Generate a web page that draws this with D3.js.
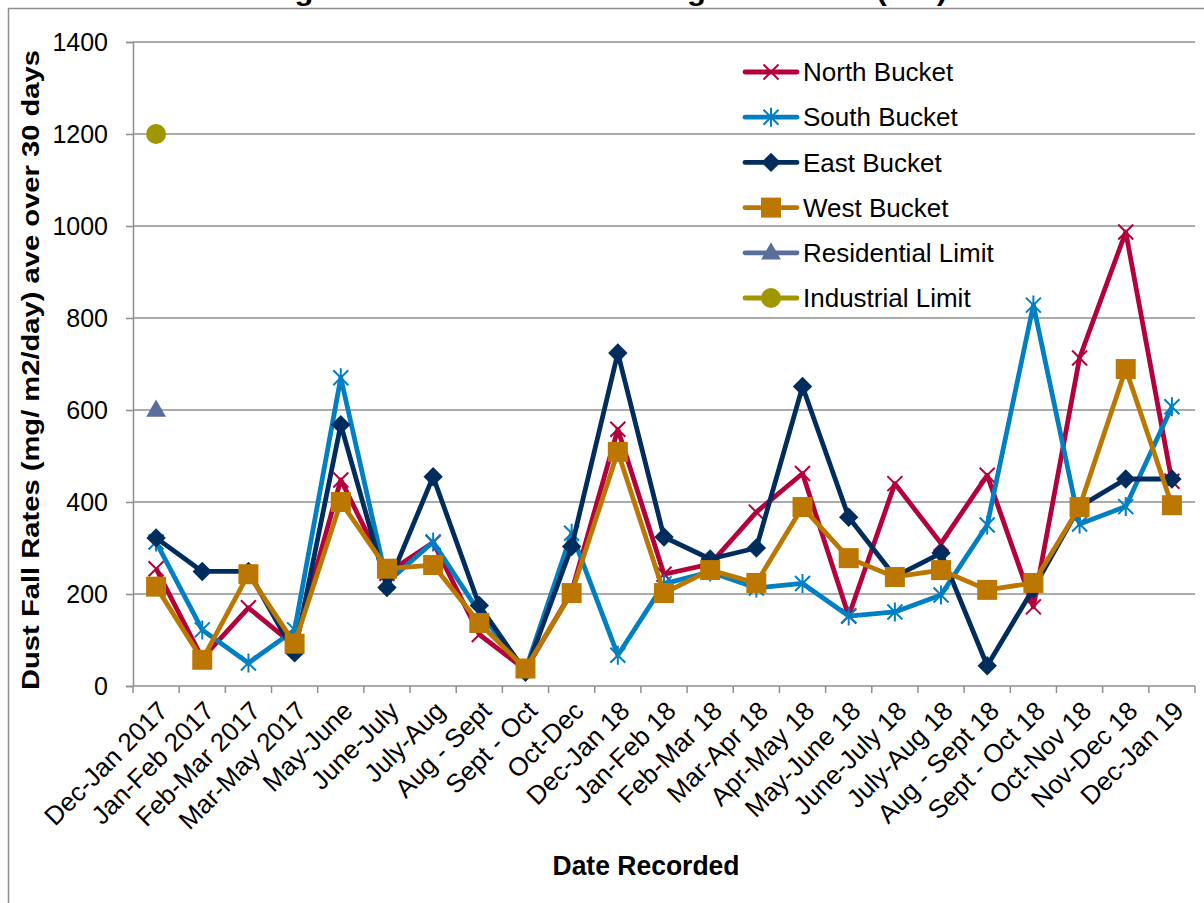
<!DOCTYPE html>
<html>
<head>
<meta charset="utf-8">
<script src="https://cdn.jsdelivr.net/npm/d3@7"></script>
<style>
  html, body { margin: 0; padding: 0; background: #fff; }
  svg { display: block; font-family: "Liberation Sans", Arial, sans-serif; }
</style>
</head>
<body>
<svg id="chart" width="1204" height="903"></svg>
<script>
// Sampling periods
const categories = [
  "Dec-Jan 2017", "Jan-Feb 2017", "Feb-Mar 2017", "Mar-May 2017", "May-June",
  "June-July", "July-Aug", "Aug - Sept", "Sept - Oct", "Oct-Dec", "Dec-Jan 18",
  "Jan-Feb 18", "Feb-Mar 18", "Mar-Apr 18", "Apr-May 18", "May-June 18",
  "June-July 18", "July-Aug 18", "Aug - Sept 18", "Sept - Oct 18", "Oct-Nov 18",
  "Nov-Dec 18", "Dec-Jan 19"
];

// Dust fall rates (mg/m2/day) per bucket
const northBucket = [255, 60, 170, 88, 448, 245, 312, 112, 35, 205, 558, 243, 265, 378, 462, 152, 440, 310, 458, 172, 713, 987, 445];
const southBucket = [313, 122, 50, 122, 670, 225, 313, 160, 35, 332, 67, 222, 248, 213, 223, 152, 161, 198, 350, 828, 352, 390, 607];
const eastBucket  = [322, 249, 249, 72, 568, 214, 455, 175, 30, 303, 724, 324, 276, 300, 651, 367, 238, 289, 44, 212, 390, 450, 450];
const westBucket  = [216, 57, 243, 92, 400, 255, 263, 137, 38, 202, 509, 202, 252, 224, 389, 278, 237, 252, 209, 224, 389, 689, 393];

// Regulatory limits (single reference point each)
const residentialLimit = [600];
const industrialLimit  = [1200];

const yTicks = [0, 200, 400, 600, 800, 1000, 1200, 1400];

const titleText  = "Figure 1: Dust Fall Monitoring Haul Road (SW)";
const yAxisTitle = "Dust Fall Rates (mg/ m2/day) ave over 30 days";
const xAxisTitle = "Date Recorded";

const series = [
  { name: "North Bucket", values: northBucket, color: "#B4003C", marker: "x" },
  { name: "South Bucket", values: southBucket, color: "#0080C3", marker: "star" },
  { name: "East Bucket",  values: eastBucket,  color: "#002D5E", marker: "diamond" },
  { name: "West Bucket",  values: westBucket,  color: "#BC7700", marker: "square" },
  { name: "Residential Limit", values: residentialLimit, color: "#5A6E9E", marker: "triangle" },
  { name: "Industrial Limit",  values: industrialLimit,  color: "#A09600", marker: "circle" }
];

const svg = d3.select("#chart");
const plot = { left: 133, right: 1195, top: 42, bottom: 686 };
const gridColor = "#8f8f8f";

const x = d3.scaleBand().domain(categories).range([plot.left, plot.right]).padding(0);
const cx = c => x(c) + x.bandwidth() / 2;
const y = d3.scaleLinear().domain([0, 1400]).range([plot.bottom, plot.top]);

// Outer chart frame
svg.append("rect")
  .attr("x", 8.5).attr("y", 8.5)
  .attr("width", 1300).attr("height", 1000)
  .attr("fill", "none").attr("stroke", gridColor).attr("stroke-width", 1.5);

// Title (sits above the frame)
svg.append("text")
  .attr("x", 607).attr("y", 0)
  .attr("text-anchor", "middle")
  .attr("font-size", 28).attr("font-weight", "bold")
  .attr("textLength", 680).attr("lengthAdjust", "spacingAndGlyphs")
  .text(titleText);

// Horizontal gridlines and y axis
const yAxis = d3.axisLeft(y).tickValues(yTicks).tickFormat(d3.format("d")).tickSize(7).tickPadding(18);
const gy = svg.append("g").attr("transform", `translate(${plot.left},0)`).call(yAxis);
gy.select(".domain").attr("stroke", gridColor).attr("stroke-width", 1.5);
gy.selectAll(".tick line").attr("stroke", gridColor).attr("stroke-width", 1.5);
gy.selectAll(".tick text").attr("font-size", 25).attr("fill", "#000")
  .attr("font-family", "Liberation Sans, Arial, sans-serif");

svg.append("g").selectAll("line").data(yTicks.filter(v => v > 0)).join("line")
  .attr("x1", plot.left).attr("x2", plot.right)
  .attr("y1", d => y(d)).attr("y2", d => y(d))
  .attr("stroke", gridColor).attr("stroke-width", 1.5);

// x axis baseline and category boundary ticks
svg.append("line")
  .attr("x1", plot.left).attr("x2", plot.right)
  .attr("y1", y(0)).attr("y2", y(0))
  .attr("stroke", gridColor).attr("stroke-width", 1.5);

const edges = categories.map(c => x(c)).concat([x(categories[categories.length - 1]) + x.bandwidth()]);
svg.append("g").selectAll("line").data(edges).join("line")
  .attr("x1", d => d).attr("x2", d => d)
  .attr("y1", y(0)).attr("y2", y(0) + 7)
  .attr("stroke", gridColor).attr("stroke-width", 1.5);

// Rotated category labels
svg.append("g").selectAll("text").data(categories).join("text")
  .attr("transform", d => `translate(${cx(d) + 7},${y(0) + 20}) rotate(-45)`)
  .attr("text-anchor", "end")
  .attr("dy", "0.35em")
  .attr("font-size", 26)
  .text(d => d);

// Axis titles
svg.append("text")
  .attr("transform", `translate(39,370) rotate(-90)`)
  .attr("text-anchor", "middle")
  .attr("font-size", 23).attr("font-weight", "bold")
  .attr("textLength", 640).attr("lengthAdjust", "spacingAndGlyphs")
  .text(yAxisTitle);

svg.append("text")
  .attr("x", 646).attr("y", 875)
  .attr("text-anchor", "middle")
  .attr("font-size", 27).attr("font-weight", "bold")
  .attr("textLength", 187).attr("lengthAdjust", "spacingAndGlyphs")
  .text(xAxisTitle);

// Marker drawing
function drawMarker(g, type, color, px, py) {
  switch (type) {
    case "x": {
      const s = 7.5;
      g.append("path")
        .attr("d", `M${px - s},${py - s}L${px + s},${py + s}M${px - s},${py + s}L${px + s},${py - s}`)
        .attr("stroke", color).attr("stroke-width", 2).attr("fill", "none");
      break;
    }
    case "star": {
      const s = 7.5;
      g.append("path")
        .attr("d", `M${px - s},${py - s}L${px + s},${py + s}M${px - s},${py + s}L${px + s},${py - s}M${px},${py - s - 2}L${px},${py + s + 2}`)
        .attr("stroke", color).attr("stroke-width", 2).attr("fill", "none");
      break;
    }
    case "diamond":
      g.append("path").attr("d", d3.symbol(d3.symbolDiamond2, 240)())
        .attr("transform", `translate(${px},${py})`).attr("fill", color);
      break;
    case "square":
      g.append("rect").attr("x", px - 10).attr("y", py - 10).attr("width", 20).attr("height", 20)
        .attr("fill", color);
      break;
    case "triangle":
      g.append("path").attr("d", d3.symbol(d3.symbolTriangle, 170)())
        .attr("transform", `translate(${px},${py + 1})`).attr("fill", color);
      break;
    case "circle":
      g.append("circle").attr("cx", px).attr("cy", py).attr("r", 10).attr("fill", color);
      break;
  }
}

const line = d3.line().x((d, i) => cx(categories[i])).y(d => y(d));

// Data series
series.forEach(s => {
  const g = svg.append("g");
  if (s.values.length > 1) {
    g.append("path").datum(s.values)
      .attr("d", line)
      .attr("fill", "none").attr("stroke", s.color)
      .attr("stroke-width", 4.8).attr("stroke-linejoin", "round");
  }
  s.values.forEach((v, i) => drawMarker(g, s.marker, s.color, cx(categories[i]), y(v)));
});

// Legend
const legend = svg.append("g");
series.forEach((s, i) => {
  const ly = 72 + i * 45.2;
  legend.append("line")
    .attr("x1", 745).attr("x2", 797).attr("y1", ly).attr("y2", ly)
    .attr("stroke", s.color).attr("stroke-width", 4.8).attr("stroke-linecap", "round");
  drawMarker(legend, s.marker, s.color, 771, ly);
  legend.append("text")
    .attr("x", 803).attr("y", ly).attr("dy", "0.35em")
    .attr("font-size", 26)
    .text(s.name);
});
</script>
</body>
</html>
